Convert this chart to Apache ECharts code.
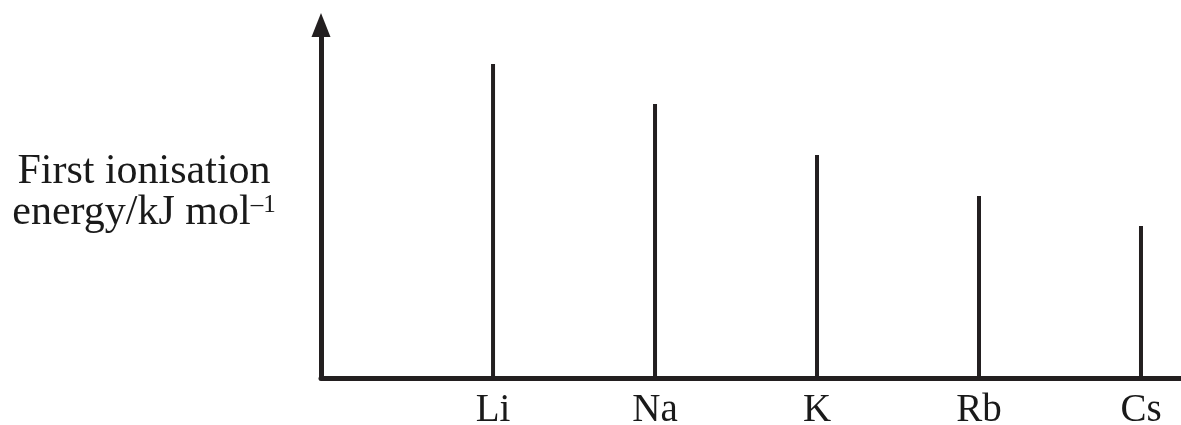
<!DOCTYPE html>
<html>
<head>
<meta charset="utf-8">
<script src="https://cdn.jsdelivr.net/npm/echarts@6/dist/echarts.min.js"></script>
<style>
  html, body { margin: 0; padding: 0; background: #fff; }
  #chart { width: 1181px; height: 425px; }
</style>
</head>
<body>
<div id="chart"></div>
<script>
// group 1 metals, schematic bar heights (arbitrary units)
const elements = ['Li', 'Na', 'K', 'Rb', 'Cs']
const positions = [1, 2, 3, 4, 5]
const energies = [314, 274, 223, 182, 152]

const ink = '#231f20'
const serif = '"Liberation Serif", "DejaVu Serif", serif'

let chart = echarts.init(document.getElementById('chart'))
chart.setOption({
  animation: false,
  grid: { left: 321, right: 0, top: 25, bottom: 47, outerBoundsMode: 'none' },
  xAxis: {
    type: 'value',
    min: -0.062,
    max: 5.247,
    splitLine: { show: false },
    axisLine: { onZero: false, lineStyle: { color: ink, width: 5 } },
    axisTick: { show: false },
    axisLabel: {
      customValues: positions,
      formatter: v => elements[Math.round(v) - 1],
      color: '#1a1a1a',
      fontFamily: serif,
      fontSize: 39,
      margin: 13
    }
  },
  yAxis: {
    type: 'value',
    min: 0,
    max: 353,
    splitLine: { show: false },
    axisTick: { show: false },
    axisLabel: { show: false },
    axisLine: {
      show: true,
      onZero: false,
      symbol: ['none', 'triangle'],
      symbolSize: [19, 24],
      lineStyle: { color: ink, width: 5 }
    },
    name: 'First ionisation\nenergy/kJ mol{sup|–1}',
    nameLocation: 'middle',
    nameRotate: 0,
    nameGap: 177,
    nameTextStyle: {
      color: '#1a1a1a',
      fontFamily: serif,
      fontSize: 42,
      lineHeight: 41,
      align: 'center',
      padding: [0, 0, 18, 0],
      rich: {
        sup: { fontFamily: serif, fontSize: 25, verticalAlign: 'top', color: '#1a1a1a' }
      }
    }
  },
  series: [{
    type: 'bar',
    barWidth: 4,
    itemStyle: { color: ink },
    data: positions.map((p, i) => [p, energies[i]])
  }]
})
</script>
</body>
</html>
